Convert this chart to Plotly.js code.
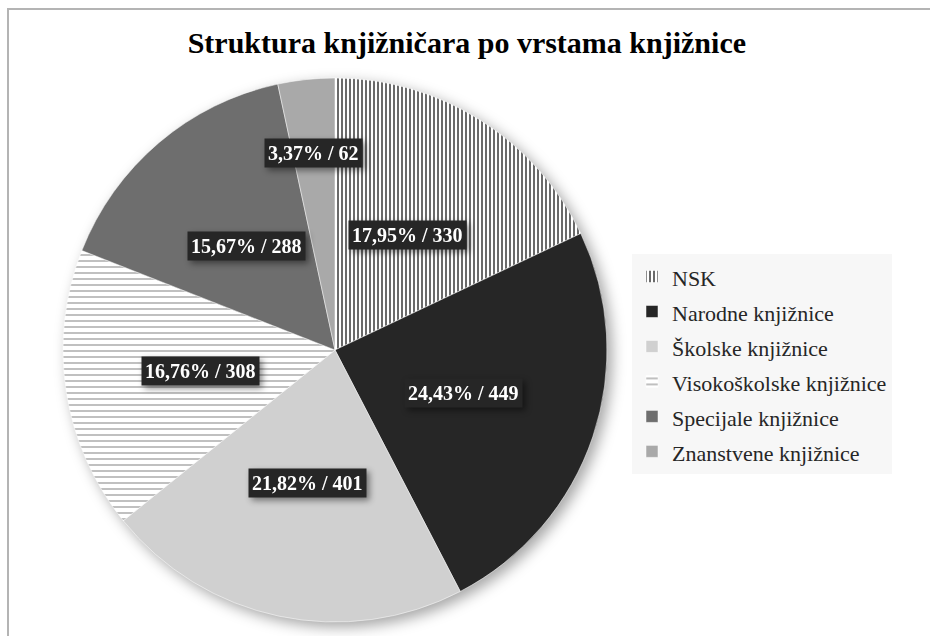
<!DOCTYPE html>
<html>
<head>
<meta charset="utf-8">
<script src="https://cdn.plot.ly/plotly-3.0.1.min.js"></script>
<style>
  html, body { margin: 0; padding: 0; background: #fff; }
  #wrap { position: relative; width: 930px; height: 636px; overflow: hidden; }
  #chart { width: 930px; height: 636px; }
  #frame { position: absolute; left: 7px; top: 8px; width: 1200px; height: 1200px;
           border-top: 2px solid #b4b4b4; border-left: 2px solid #b4b4b4; pointer-events: none; }
  #chart .pielayer { filter: drop-shadow(5px 5px 7px rgba(0,0,0,0.35)); }
  #chart .annotation-text-g { filter: drop-shadow(3px 3px 3px rgba(0,0,0,0.45)); }
</style>
</head>
<body>
<div id="wrap">
  <div id="chart"></div>
  <div id="frame"></div>
</div>
<script>
const categories = ["NSK", "Narodne knjižnice", "Školske knjižnice", "Visokoškolske knjižnice", "Specijale knjižnice", "Znanstvene knjižnice"];
const counts = [330, 449, 401, 308, 288, 62];
const sliceColors = ["#ffffff", "#262626", "#d0d0d0", "#ffffff", "#6e6e6e", "#a9a9a9"];
const patternShapes = ["|", "", "", "-", "", ""];
const patternFg = ["#2a2a2a", "#262626", "#d0d0d0", "#a0a0a0", "#6e6e6e", "#a9a9a9"];
const labelRadius = [0.5, 0.5, 0.5, 0.5, 0.5, 0.73];

const W = 930, H = 636;
const SERIF = 'Liberation Serif';
const domX = [(335 - 272) / W, (335 + 272) / W];
const domY = [1 - 622 / H, 1 - 78 / H];

const total = counts.reduce((a, b) => a + b, 0);
const pctText = counts.map(v => (v / total * 100).toFixed(2).replace('.', ','));

// label annotations positioned from the data angles
const cxPx = (domX[0] + domX[1]) / 2 * W;
const cyPx = (1 - (domY[0] + domY[1]) / 2) * H;
const Rpx = Math.min((domX[1] - domX[0]) * W, (domY[1] - domY[0]) * H) / 2;
let cum = 0;
const annotations = counts.map((v, i) => {
  const mid = (cum + v / 2) / total * 2 * Math.PI;
  cum += v;
  const r = Rpx * labelRadius[i];
  const px = cxPx + r * Math.sin(mid);
  const py = cyPx - r * Math.cos(mid);
  return {
    x: px / W, y: 1 - py / H, xref: 'paper', yref: 'paper',
    text: '<b>' + pctText[i] + '% / ' + v + '</b>',
    showarrow: false,
    font: { family: SERIF, size: 20, color: '#ffffff' },
    bgcolor: '#262626', borderpad: 3, xanchor: 'center', yanchor: 'middle'
  };
});

// legend text shown smaller than the legend's row font (row height comes from legend font size)
const legendLabels = categories.map(c => '<span style="font-size:22px">' + c + '</span>');

const trace = {
  type: 'pie',
  labels: legendLabels,
  values: counts,
  sort: false,
  direction: 'clockwise',
  rotation: 0,
  textinfo: 'none',
  hoverinfo: 'label+value+percent',
  domain: { x: domX, y: domY },
  marker: {
    colors: sliceColors,
    line: { color: '#ffffff', width: 0.5 },
    pattern: {
      shape: patternShapes,
      fgcolor: patternFg,
      bgcolor: sliceColors,
      size: [4, 8, 8, 6, 8, 8],
      solidity: [0.35, 0.3, 0.3, 0.22, 0.3, 0.3]
    }
  }
};

const layout = {
  width: W, height: H,
  margin: { l: 0, r: 0, t: 0, b: 0 },
  paper_bgcolor: '#ffffff',
  title: {
    text: '<b>Struktura knjižničara po vrstama knjižnice</b>',
    font: { family: SERIF, size: 30, color: '#000000' },
    x: 0.502, xanchor: 'center', y: 1 - 42 / H, yanchor: 'middle', xref: 'paper', yref: 'paper'
  },
  showlegend: true,
  legend: {
    x: 632 / W, xanchor: 'left', y: 1 - 254 / H, yanchor: 'top',
    bgcolor: '#f7f7f7',
    font: { family: SERIF, size: 24.6, color: '#262626' },
    itemwidth: 30
  },
  annotations: annotations
};

Plotly.newPlot('chart', [trace], layout, { displayModeBar: false, staticPlot: true });
</script>
</body>
</html>
